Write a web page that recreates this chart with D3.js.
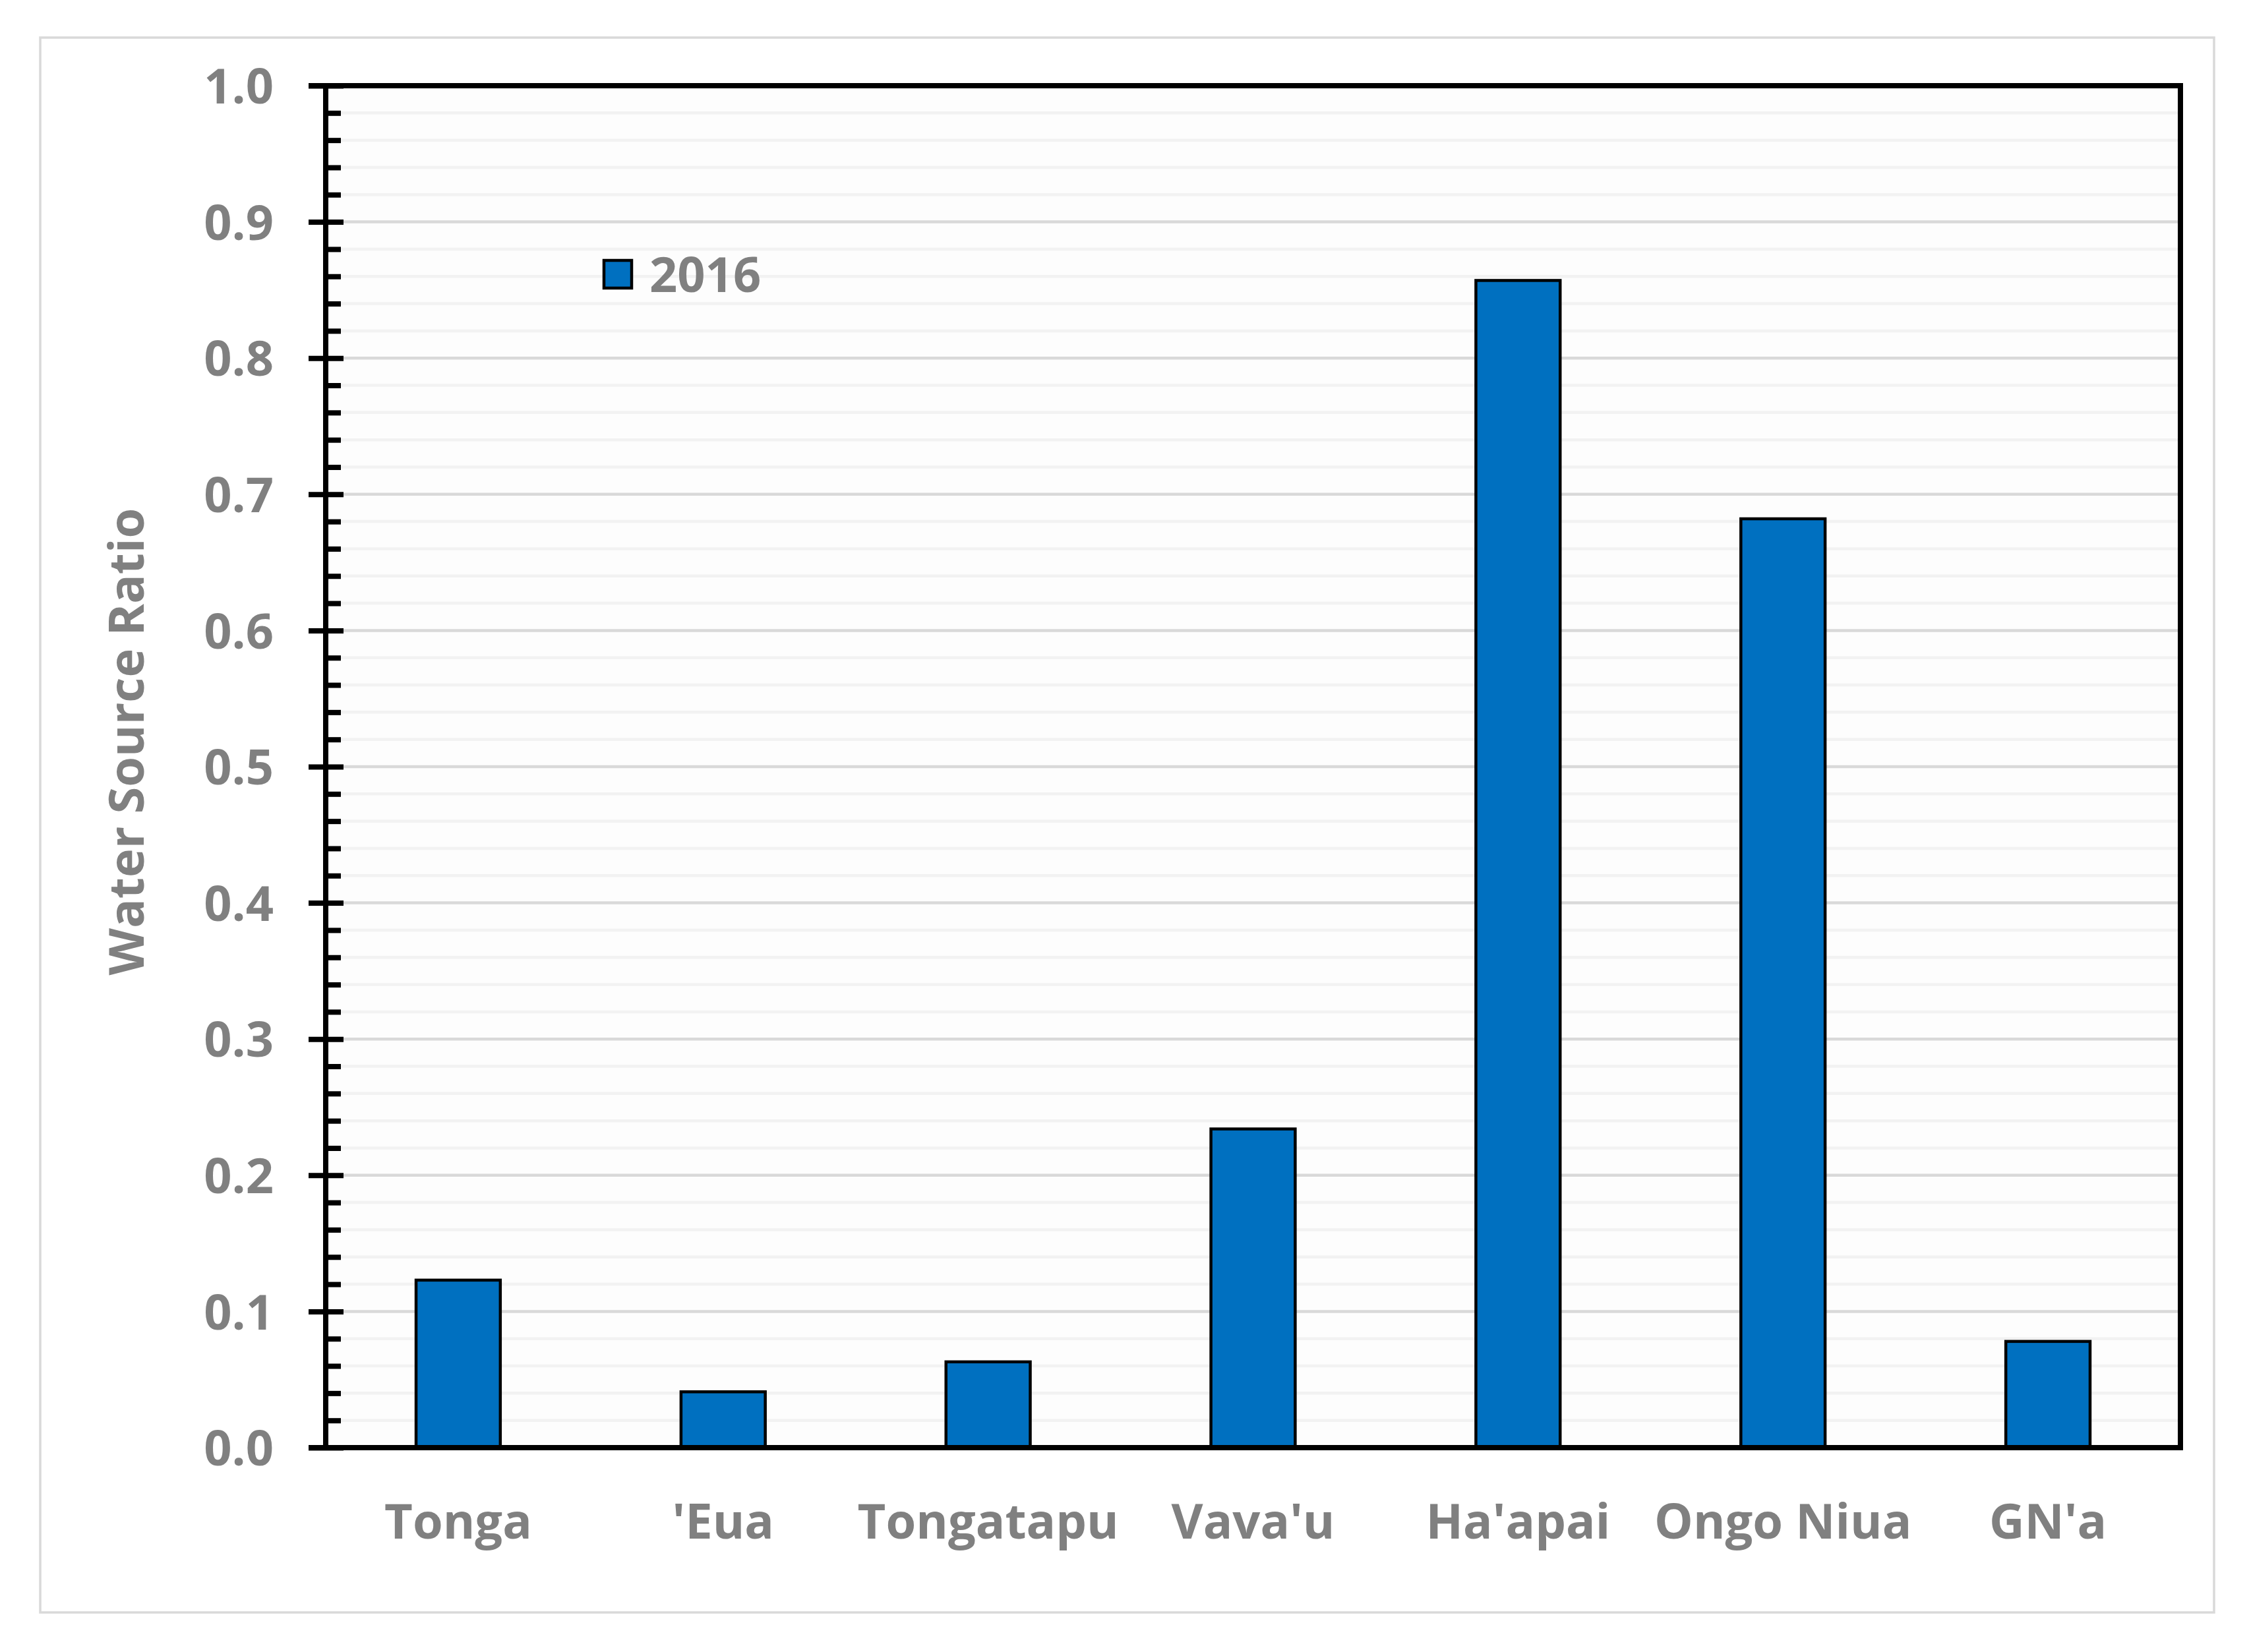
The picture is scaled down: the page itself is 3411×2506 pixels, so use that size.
<!DOCTYPE html>
<html>
<head>
<meta charset="utf-8">
<script src="https://cdn.jsdelivr.net/npm/d3@7"></script>
<style>
  html, body { margin: 0; padding: 0; background: #ffffff; }
  svg { display: block; }
  text { font-family: "Open Sans", "Noto Sans", sans-serif; font-weight: bold; fill: #808080; }
</style>
</head>
<body>
<svg id="chart" width="3411" height="2506"></svg>
<script>
// ---- data ----
const categories = ["Tonga", "'Eua", "Tongatapu", "Vava'u", "Ha'apai", "Ongo Niua", "GN'a"];
const values2016 = [0.123, 0.041, 0.063, 0.234, 0.857, 0.682, 0.078];
const seriesName = "2016";
const yMajorTicks = [0.0, 0.1, 0.2, 0.3, 0.4, 0.5, 0.6, 0.7, 0.8, 0.9, 1.0];
const yMinorTicks = d3.range(1, 50).map(i => i * 0.02).filter(v => Math.abs(v * 10 - Math.round(v * 10)) > 1e-6);
const yTitle = "Water Source Ratio";

// ---- layout ----
const W = 3411, H = 2506;
const plot = { left: 494, right: 3307, top: 130, bottom: 2196 };
const svg = d3.select("#chart");

svg.append("rect").attr("x", 0).attr("y", 0).attr("width", W).attr("height", H).attr("fill", "#ffffff");
// outer chart border
svg.append("rect").attr("x", 61).attr("y", 57).attr("width", 3297).attr("height", 2389)
  .attr("fill", "#ffffff").attr("stroke", "#d9d9d9").attr("stroke-width", 3.5);

const x = d3.scaleBand().domain(categories).range([plot.left, plot.right])
  .paddingInner(0.682).paddingOuter(0.341);
const y = d3.scaleLinear().domain([0, 1]).range([plot.bottom, plot.top]);

// plot background
svg.append("rect").attr("x", plot.left).attr("y", plot.top)
  .attr("width", plot.right - plot.left).attr("height", plot.bottom - plot.top).attr("fill", "#fdfdfd");

// minor gridlines
svg.append("g").selectAll("line").data(yMinorTicks).join("line")
  .attr("x1", plot.left).attr("x2", plot.right)
  .attr("y1", d => y(d)).attr("y2", d => y(d))
  .attr("stroke", "#f2f2f2").attr("stroke-width", 4.5);
// major gridlines
svg.append("g").selectAll("line").data(yMajorTicks.filter(d => d > 0 && d < 1)).join("line")
  .attr("x1", plot.left).attr("x2", plot.right)
  .attr("y1", d => y(d)).attr("y2", d => y(d))
  .attr("stroke", "#d9d9d9").attr("stroke-width", 4.5);

// bars
svg.append("g").selectAll("rect").data(categories).join("rect")
  .attr("x", d => x(d))
  .attr("y", (d, i) => y(values2016[i]))
  .attr("width", x.bandwidth())
  .attr("height", (d, i) => y(0) - y(values2016[i]))
  .attr("fill", "#0070c0").attr("stroke", "#000000").attr("stroke-width", 4.5);

// frame (top & right)
svg.append("line").attr("x1", 468).attr("x2", plot.right + 4).attr("y1", plot.top).attr("y2", plot.top)
  .attr("stroke", "#000").attr("stroke-width", 8);
svg.append("line").attr("x1", plot.right).attr("x2", plot.right).attr("y1", plot.top - 4).attr("y2", plot.bottom + 4)
  .attr("stroke", "#000").attr("stroke-width", 8);

// minor ticks (inside)
const minorAxis = d3.axisRight(y).tickValues(yMinorTicks).tickSize(23).tickFormat("");
const gMinor = svg.append("g").attr("transform", `translate(${plot.left},0)`).call(minorAxis);
gMinor.select(".domain").remove();
gMinor.selectAll(".tick line").attr("stroke", "#000").attr("stroke-width", 8);

// major ticks (cross) + labels
const majorAxis = d3.axisLeft(y).tickValues(yMajorTicks).tickSize(26).tickPadding(53)
  .tickFormat(d3.format(".1f"));
const gY = svg.append("g").attr("transform", `translate(${plot.left},0)`).call(majorAxis);
gY.select(".domain").remove();
gY.selectAll(".tick line").attr("x1", 27).attr("stroke", "#000").attr("stroke-width", 8);
gY.selectAll(".tick text").attr("font-size", 74).attr("fill", "#808080")
  .attr("font-family", null).attr("dy", "0.36em");

// left axis line
svg.append("line").attr("x1", plot.left).attr("x2", plot.left).attr("y1", plot.top - 4).attr("y2", plot.bottom + 4)
  .attr("stroke", "#000").attr("stroke-width", 8);

// x axis
const xAxis = d3.axisBottom(x).tickSize(0).tickPadding(85);
const gX = svg.append("g").attr("transform", `translate(0,${plot.bottom})`).call(xAxis);
gX.select(".domain").remove();
gX.selectAll(".tick text").attr("font-size", 74).attr("fill", "#808080").attr("font-family", null);
svg.append("line").attr("x1", 468).attr("x2", plot.right + 4).attr("y1", plot.bottom).attr("y2", plot.bottom)
  .attr("stroke", "#000").attr("stroke-width", 8);

// y title
svg.append("text")
  .attr("transform", "translate(218,1125) rotate(-90)")
  .attr("text-anchor", "middle")
  .attr("font-size", 74)
  .text(yTitle);

// legend
const legend = svg.append("g").attr("transform", "translate(916,395)");
legend.append("rect").attr("x", 0).attr("y", 0).attr("width", 42).attr("height", 42)
  .attr("fill", "#0070c0").attr("stroke", "#000").attr("stroke-width", 4.5);
legend.append("text").attr("x", 69).attr("y", 21).attr("dy", "0.36em")
  .attr("font-size", 74).text(seriesName);
</script>
</body>
</html>
